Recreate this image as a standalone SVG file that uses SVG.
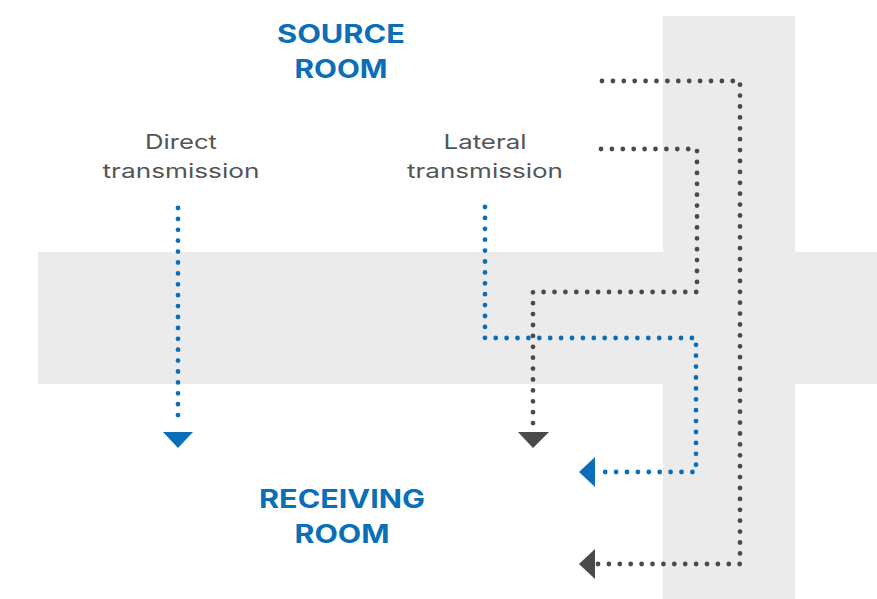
<svg xmlns="http://www.w3.org/2000/svg" width="877" height="599" viewBox="0 0 877 599">
<defs>
<style>
.band{fill:#ebebeb}
.dot{fill:none;stroke-width:4.8;stroke-linecap:round;stroke-dasharray:0 10.9;stroke-linejoin:round}
.blue{stroke:#0a6fb8}
.dark{stroke:#4a4a4a}
.title{font-family:Inter,"Open Sans","Liberation Sans",sans-serif;font-weight:700;font-size:25px;fill:#0a6fb8;text-anchor:middle}
.label{font-family:Inter,"Open Sans","Liberation Sans",sans-serif;font-size:20px;fill:#555555;text-anchor:middle}
.ab{fill:#0a6fb8}
.ad{fill:#4a4a4a}
</style>
</defs>
<rect width="877" height="599" fill="#ffffff"/>
<g id="walls">
<rect class="band" x="663" y="16" width="132" height="583"/>
<rect class="band" x="38" y="252" width="839" height="132"/>
</g>
<g id="source-room">
<text class="title" x="341" y="43" textLength="128" lengthAdjust="spacingAndGlyphs">SOURCE</text>
<text class="title" x="341" y="78" textLength="93" lengthAdjust="spacingAndGlyphs">ROOM</text>
</g>
<g id="receiving-room">
<text class="title" x="342" y="508" textLength="166" lengthAdjust="spacingAndGlyphs">RECEIVING</text>
<text class="title" x="342" y="543" textLength="95" lengthAdjust="spacingAndGlyphs">ROOM</text>
</g>
<g id="direct-label">
<text class="label" x="181" y="149" textLength="72" lengthAdjust="spacingAndGlyphs">Direct</text>
<text class="label" x="181" y="178" textLength="157" lengthAdjust="spacingAndGlyphs">transmission</text>
</g>
<g id="lateral-label">
<text class="label" x="485" y="149" textLength="83" lengthAdjust="spacingAndGlyphs">Lateral</text>
<text class="label" x="485" y="178" textLength="156" lengthAdjust="spacingAndGlyphs">transmission</text>
</g>
<g id="connectors">
<polyline class="dot blue" points="178,208 178,422"/>
<polygon class="ab" points="163,432 193,432 178,448"/>
<polyline class="dot blue" points="485,207 485,338 696,338 696,472 597,472"/>
<polygon class="ab" points="595,457 595,487 579,472"/>
<polyline class="dot dark" points="601,149 697,149 697,292 533,292 533,430"/>
<polygon class="ad" points="518,432 549,432 533,448"/>
<polyline class="dot dark" points="602,81 740,81 740,564 597,564"/>
<polygon class="ad" points="595,549 595,579 579,564"/>
</g>
</svg>
